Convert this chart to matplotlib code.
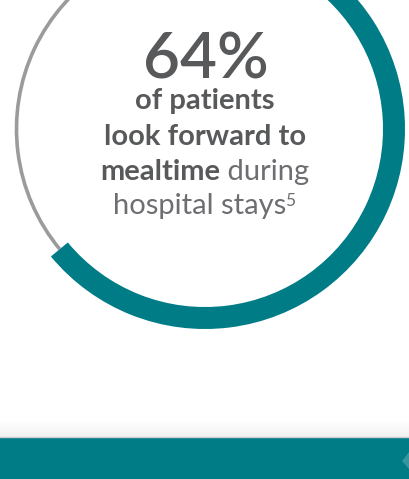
"""
Donut-style ring: 64% of patients look forward to mealtime
"""

import numpy as np
import matplotlib.pyplot as plt
from matplotlib.patches import Wedge, Arc, Rectangle, Polygon


# data
share = 64
headline = "64%"
line_bold = ["of patients", "look forward to", "mealtime"]
line_light = [" during", "hospital stays"]
footnote = "5"

teal = "#007c87"
ring_gray = "#9b9b9b"
text_dark = "#58595b"
text_light = "#6d6e71"

plt.rcParams['font.family'] = ['Lato', 'DejaVu Sans']

W, H = 409, 479
fig = plt.figure(figsize=(W / 100, H / 100), dpi=100)
ax = fig.add_axes([0, 0, 1, 1])
ax.set_xlim(0, W)
ax.set_ylim(0, H)
ax.axis('off')

# ring geometry (y up, image y = H - y)
cx, cy = 205, H - 129
r_out, width = 200, 22

sweep = share / 100 * 360
start = 90 - sweep

# gray remainder (thin)
ax.add_patch(Arc((cx, cy), 2 * 188.5, 2 * 188.5, theta1=90, theta2=start + 360,
                 color=ring_gray, lw=2.6, zorder=1))
# teal share (thick)
ax.add_patch(Wedge((cx, cy), r_out, start, 90, width=width,
                   facecolor=teal, edgecolor='none', zorder=2))

fs = 21

# texts
ax.text(cx + 1, H - 78, headline, ha='center', va='baseline', fontsize=46,
        color=text_dark, fontweight='semibold')
ax.text(cx, H - 109, line_bold[0], ha='center', va='baseline', fontsize=fs,
        color=text_dark, fontweight='bold')
ax.text(cx, H - 145, line_bold[1], ha='center', va='baseline', fontsize=fs,
        color=text_dark, fontweight='bold')

# mixed line: bold + light
t1 = ax.text(0, H - 180, line_bold[2], ha='left', va='baseline', fontsize=fs,
             color=text_dark, fontweight='bold')
t2 = ax.text(0, H - 180, line_light[0], ha='left', va='baseline', fontsize=fs,
             color=text_light, fontweight='normal')
fig.canvas.draw()
inv = ax.transData.inverted()
bb1 = t1.get_window_extent()
bb2 = t2.get_window_extent()
w1 = inv.transform((bb1.x1, 0))[0] - inv.transform((bb1.x0, 0))[0]
w2 = inv.transform((bb2.x1, 0))[0] - inv.transform((bb2.x0, 0))[0]
x0 = cx - (w1 + w2) / 2
t1.set_x(x0)
t2.set_x(x0 + w1)

# last line with small raised footnote
t3 = ax.text(cx - 5, H - 214, line_light[1], ha='center', va='baseline',
             fontsize=fs, color=text_light, fontweight='normal')
fig.canvas.draw()
bb3 = t3.get_window_extent()
x3 = inv.transform((bb3.x1, 0))[0]
ax.text(x3 - 1.5, H - 214 + 8, footnote, ha='left', va='baseline',
        fontsize=12.5, color=text_light)

# bottom band with soft shadow
grad = np.linspace(0, 1, 50).reshape(-1, 1)
ax.imshow(grad, extent=(0, W, H - 437, H - 420), aspect='auto',
          cmap='Greys', vmin=0, vmax=9, origin='upper', zorder=3)
ax.add_patch(Rectangle((0, 0), W, H - 437, facecolor=teal, edgecolor='none', zorder=4))
ax.plot([0, W], [H - 437, H - 437], color='#cfcfcf', lw=1, zorder=5)
ax.add_patch(Polygon([(W, H - 452), (402, H - 461), (W, H - 469)], closed=True,
                     facecolor='#5aa9b0', edgecolor='none', alpha=0.6, zorder=5))

ax.set_xlim(0, W)
ax.set_ylim(0, H)

fig.savefig('out.png', dpi=100)
